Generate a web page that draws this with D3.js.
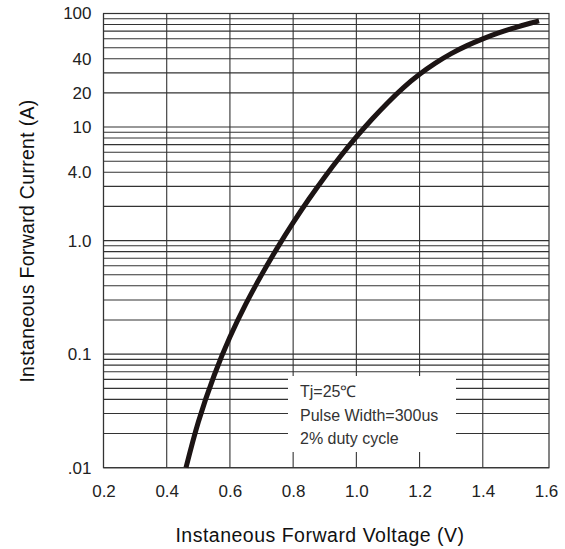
<!DOCTYPE html>
<html>
<head>
<meta charset="utf-8">
<script src="https://cdn.jsdelivr.net/npm/d3@7"></script>
<style>
  body { margin: 0; background: #fff; }
  svg { display: block; }
</style>
</head>
<body>
<svg id="chart" width="565" height="549"></svg>
<script>
// ---- data ----
const voltage = [0.461, 0.5, 0.55, 0.6, 0.65, 0.7, 0.75, 0.8, 0.85, 0.9, 0.95, 1.0, 1.05, 1.1, 1.15, 1.2, 1.25, 1.3, 1.35, 1.4, 1.45, 1.5, 1.55, 1.578];
const current = [0.01, 0.02523, 0.06486, 0.1413, 0.2754, 0.4989, 0.863, 1.439, 2.323, 3.639, 5.534, 8.185, 11.78, 16.48, 22.39, 29.17, 36.56, 44.36, 52.12, 59.84, 67.45, 74.82, 82.04, 86.1];
const xTicks = [0.2, 0.4, 0.6, 0.8, 1.0, 1.2, 1.4, 1.6];
const xTickLabels = ["0.2", "0.4", "0.6", "0.8", "1.0", "1.2", "1.4", "1.6"];
const yTicks = [100, 40, 20, 10, 4, 1, 0.1, 0.01];
const yTickLabels = ["100", "40", "20", "10", "4.0", "1.0", "0.1", ".01"];
const decades = [0.01, 0.1, 1, 10];
const multiples = [1, 2, 3, 4, 5, 6, 7, 8, 9];
const legendLines = ["Tj=25\u2103", "Pulse Width=300us", "2% duty cycle"];
const xTitle = "Instaneous Forward Voltage (V)";
const yTitle = "Instaneous Forward Current (A)";

// ---- layout ----
const pLeft = 103.5, pRight = 546, frameRight = 549, pTop = 13.5, pBottom = 467.7;
const svg = d3.select("#chart");
const x = d3.scaleLinear().domain([0.2, 1.6]).range([pLeft, pRight]);
const y = d3.scaleLog().domain([0.01, 100]).range([pBottom, pTop]);
const gridColor = "#333";
const tickFont = "'Liberation Sans Narrow', 'Liberation Sans', Arial, sans-serif";
const titleFont = "'Liberation Sans', Arial, sans-serif";

// horizontal grid
const hVals = [];
decades.forEach(d => multiples.forEach(m => hVals.push(d * m)));
hVals.push(100);
svg.append("g").selectAll("line").data(hVals).join("line")
  .attr("x1", pLeft).attr("x2", frameRight)
  .attr("y1", d => y(d)).attr("y2", d => y(d))
  .attr("stroke", gridColor).attr("stroke-width", 1.1);

// vertical grid
svg.append("g").selectAll("line").data(xTicks.slice(0, -1)).join("line")
  .attr("x1", d => x(d)).attr("x2", d => x(d))
  .attr("y1", pTop).attr("y2", pBottom)
  .attr("stroke", gridColor).attr("stroke-width", 1.1);

// frame
svg.append("rect").attr("x", pLeft).attr("y", pTop)
  .attr("width", frameRight - pLeft).attr("height", pBottom - pTop)
  .attr("fill", "none").attr("stroke", gridColor).attr("stroke-width", 1.2);

// legend box (white, covering grid)
const lg = svg.append("g");
lg.append("rect").attr("x", 288).attr("y", 376).attr("width", 168).attr("height", 76).attr("fill", "#fff");
lg.selectAll("text").data(legendLines).join("text")
  .attr("x", 300).attr("y", (d, i) => 397 + i * 23.5)
  .attr("font-family", tickFont).attr("font-size", 16).attr("fill", "#333")
  .text(d => d);

// curve
const pts = voltage.map((v, i) => [v, current[i]]);
svg.append("path").datum(pts)
  .attr("d", d3.line().x(d => x(d[0])).y(d => y(d[1])).curve(d3.curveNatural))
  .attr("fill", "none").attr("stroke", "#1c1414").attr("stroke-width", 5);

// axes (labels only)
const yAxis = svg.append("g").attr("transform", `translate(${pLeft},0)`)
  .call(d3.axisLeft(y).tickValues(yTicks).tickFormat((d, i) => yTickLabels[i]).tickSize(0).tickPadding(12));
const xAxis = svg.append("g").attr("transform", `translate(0,${pBottom})`)
  .call(d3.axisBottom(x).tickValues(xTicks).tickFormat((d, i) => xTickLabels[i]).tickSize(0).tickPadding(17));
[yAxis, xAxis].forEach(g => {
  g.select(".domain").remove();
  g.selectAll("text").attr("font-family", tickFont).attr("font-size", 17).attr("fill", "#222");
});

// titles
svg.append("text").attr("x", 320).attr("y", 541.5)
  .attr("text-anchor", "middle").attr("font-family", titleFont)
  .attr("font-size", 19.5).attr("letter-spacing", 0.5).attr("fill", "#111").text(xTitle);
svg.append("text").attr("transform", "translate(34,241) rotate(-90)")
  .attr("text-anchor", "middle").attr("font-family", titleFont)
  .attr("font-size", 19.5).attr("letter-spacing", 0.3).attr("fill", "#111").text(yTitle);
</script>
</body>
</html>
